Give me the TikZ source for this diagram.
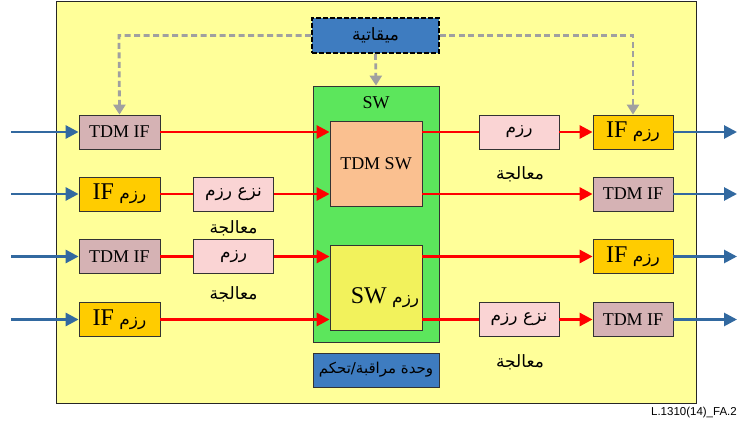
\documentclass[tikz,border=0pt]{standalone}
\usepackage{fontspec}
\setmainfont{Liberation Serif}
\newfontfamily\arabicfont[Script=Arabic]{DejaVu Sans}
\newfontfamily\labelfont{Liberation Sans}
\TeXXeTstate=1
\usetikzlibrary{arrows.meta}

\definecolor{bgyellow}{RGB}{255,255,153}
\definecolor{swgreen}{RGB}{92,230,92}
\definecolor{tdmpeach}{RGB}{250,192,144}
\definecolor{pktyellow}{RGB}{242,242,92}
\definecolor{ctrlblue}{RGB}{62,124,192}
\definecolor{tdmmauve}{RGB}{213,178,180}
\definecolor{ifgold}{RGB}{255,204,0}
\definecolor{procpink}{RGB}{250,212,212}
\definecolor{linkblue}{RGB}{50,105,160}
\definecolor{syncgray}{RGB}{160,160,160}
\definecolor{sigred}{RGB}{255,0,0}

\newcommand{\artxt}[1]{{\arabicfont\beginR #1\endR}}

\tikzset{
  box/.style={draw=black!80, line width=0.8pt, minimum width=81pt, minimum height=34pt,
              inner sep=0pt, font=\fontsize{18}{20}\selectfont},
  tdmif/.style={box, fill=tdmmauve},
  pktif/.style={box, fill=ifgold},
  proc/.style={box, fill=procpink, minimum width=80pt, font=\fontsize{17}{19}\selectfont},
  caption/.style={inner sep=0pt, font=\fontsize{17}{19}\selectfont},
  redline/.style={draw=sigred, line width=2.8pt},
  redarrow/.style={redline, -{Triangle[length=13pt,width=13pt]}},
  bluearrow/.style={draw=linkblue, line width=2.8pt, -{Triangle[length=13pt,width=13pt]}},
  syncline/.style={draw=syncgray, line width=2.8pt, dash pattern=on 6pt off 3.5pt,
                   -{Triangle[length=10pt,width=12pt]}},
}

\begin{document}
\begin{tikzpicture}[x=1pt,y=-1pt]
\useasboundingbox (0,0) rectangle (737,428);

% equipment frame
\node[draw=black!85, line width=1pt, fill=bgyellow, minimum width=640pt, minimum height=401pt,
      inner sep=0pt] (frame) at (376,202.5) {};

% switch fabric
\node[draw=black!80, line width=0.8pt, fill=swgreen, minimum width=126pt, minimum height=256pt,
      inner sep=0pt] (sw) at (376,214) {};
\node[font=\fontsize{18}{20}\selectfont, inner sep=0pt] (swlabel) at (376,103) {SW};
\node[draw=black!80, line width=0.8pt, fill=tdmpeach, minimum width=92pt, minimum height=85pt,
      inner sep=0pt, font=\fontsize{18}{20}\selectfont] (tdmsw) at (376,163.5) {TDM SW};
\node[draw=black!80, line width=0.8pt, fill=pktyellow, minimum width=92pt, minimum height=85pt,
      inner sep=0pt] (pktsw) at (376,287.5) {};
\node[inner sep=0pt] (pktswlabel) at (385,298)
  {\artxt{\fontsize{17}{19}\selectfont رزم \beginL{\rmfamily\fontsize{24}{26}\selectfont SW}\endL}};

% control and timing units
\node[draw=black!80, line width=0.8pt, fill=ctrlblue, minimum width=126pt, minimum height=34pt,
      inner sep=0pt, font=\fontsize{15}{17}\selectfont] (ctrl) at (376,370) {\artxt{وحدة مراقبة/تحكم}};
\node[draw=black, line width=1.6pt, dash pattern=on 5pt off 2pt, fill=ctrlblue,
      minimum width=127pt, minimum height=35pt, inner sep=0pt,
      font=\fontsize{17}{19}\selectfont] (timing) at (375.5,35.5) {\artxt{ميقاتية}};

% ingress interfaces
\node[tdmif] (inA) at (119.5,132) {TDM IF};
\node[pktif] (inB) at (119.5,194) {\artxt{\fontsize{17}{19}\selectfont رزم \beginL{\rmfamily\fontsize{24}{26}\selectfont IF}\endL}};
\node[tdmif] (inC) at (119.5,256.5) {TDM IF};
\node[pktif] (inD) at (119.5,319.5) {\artxt{\fontsize{17}{19}\selectfont رزم \beginL{\rmfamily\fontsize{24}{26}\selectfont IF}\endL}};

% ingress processing
\node[proc] (procB) at (233.5,194) {\artxt{نزع رزم}};
\node[proc] (procC) at (233.5,256.5) {\artxt{رزم}};
\node[caption] (capB) at (233.5,228) {\artxt{معالجة}};
\node[caption] (capC) at (233.5,294) {\artxt{معالجة}};

% egress processing
\node[proc] (procE) at (519,132) {\artxt{رزم}};
\node[proc] (procH) at (519,319.5) {\artxt{نزع رزم}};
\node[caption] (capE) at (520,174) {\artxt{معالجة}};
\node[caption] (capH) at (520,362) {\artxt{معالجة}};

% egress interfaces
\node[pktif, minimum width=80pt] (outE) at (633,132) {\artxt{\fontsize{17}{19}\selectfont رزم \beginL{\rmfamily\fontsize{24}{26}\selectfont IF}\endL}};
\node[tdmif, minimum width=80pt] (outF) at (633,194) {TDM IF};
\node[pktif, minimum width=80pt] (outG) at (633,256.5) {\artxt{\fontsize{17}{19}\selectfont رزم \beginL{\rmfamily\fontsize{24}{26}\selectfont IF}\endL}};
\node[tdmif, minimum width=80pt] (outH) at (633,319.5) {TDM IF};

% external line ends
\coordinate (extA) at (11,132);
\coordinate (extB) at (11,194);
\coordinate (extC) at (11,256.5);
\coordinate (extD) at (11,319.5);
\coordinate (extE) at (737,132);
\coordinate (extF) at (737,194);
\coordinate (extG) at (737,256.5);
\coordinate (extH) at (737,319.5);

% external links
\draw[bluearrow] (extA) -- (inA.west);
\draw[bluearrow] (extB) -- (inB.west);
\draw[bluearrow] (extC) -- (inC.west);
\draw[bluearrow] (extD) -- (inD.west);
\draw[bluearrow] (outE.east) -- (extE);
\draw[bluearrow] (outF.east) -- (extF);
\draw[bluearrow] (outG.east) -- (extG);
\draw[bluearrow] (outH.east) -- (extH);

% ingress signal paths
\draw[redarrow] (inA.east) -- (tdmsw.west |- inA.east);
\draw[redline] (inB.east) -- (procB.west);
\draw[redarrow] (procB.east) -- (tdmsw.west |- procB.east);
\draw[redline] (inC.east) -- (procC.west);
\draw[redarrow] (procC.east) -- (pktsw.west |- procC.east);
\draw[redarrow] (inD.east) -- (pktsw.west |- inD.east);

% egress signal paths
\draw[redline] (tdmsw.east |- procE.west) -- (procE.west);
\draw[redarrow] (procE.east) -- (outE.west);
\draw[redarrow] (tdmsw.east |- outF.west) -- (outF.west);
\draw[redarrow] (pktsw.east |- outG.west) -- (outG.west);
\draw[redline] (pktsw.east |- procH.west) -- (procH.west);
\draw[redarrow] (procH.east) -- (outH.west);

% timing distribution
\coordinate (syncL) at (119,35.5);
\coordinate (syncR) at (633,35.5);
\draw[syncline] (timing.west) -- (syncL) -- (inA.north);
\draw[syncline] (timing.east) -- (syncR) -- (outE.north);
\draw[syncline] (timing.south) -- (sw.north);

% figure reference
\node[font=\labelfont\fontsize{11.5}{13}\selectfont, anchor=east, inner sep=0pt] (ref) at (737,413) {L.1310(14)\_FA.2};
\end{tikzpicture}
\end{document}
